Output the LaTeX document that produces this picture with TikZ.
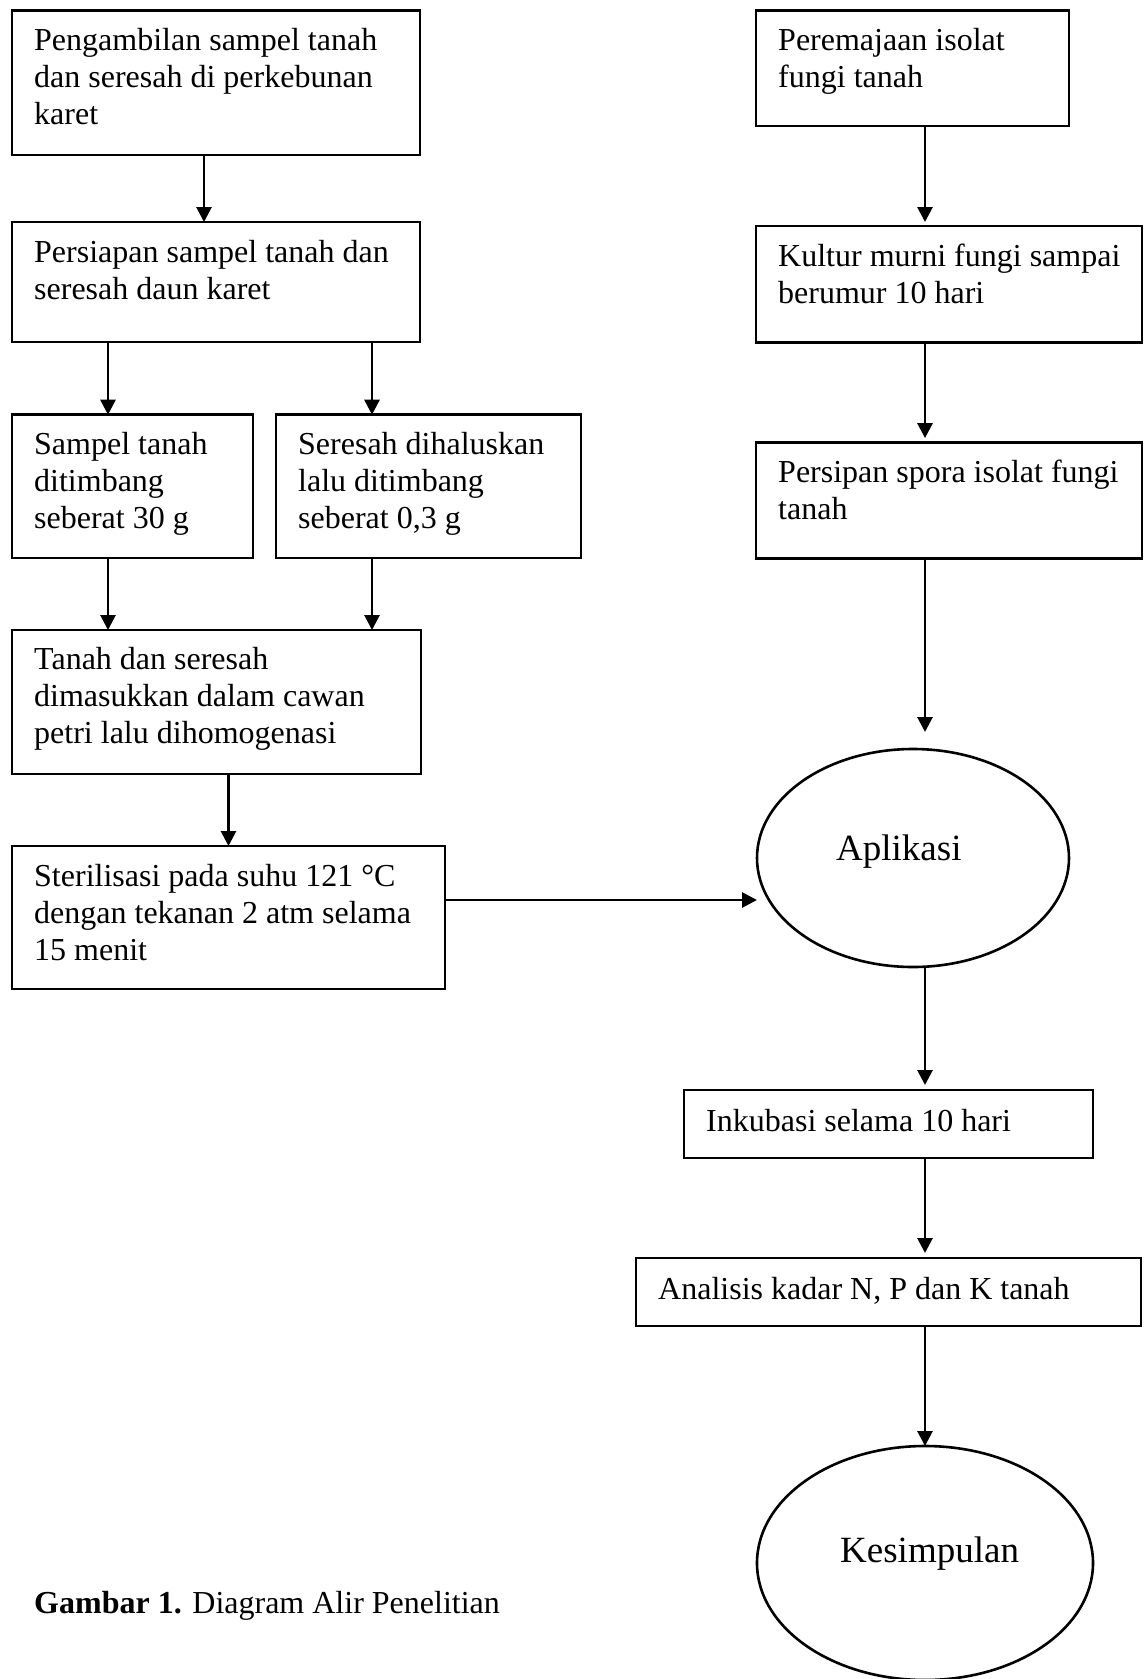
\documentclass[tikz,border=0pt]{standalone}
\usepackage{fontspec}
\setmainfont{Liberation Serif}
\usetikzlibrary{arrows.meta,shapes.geometric}
\tikzset{
  box/.style={draw, line width=2.8pt, rectangle, inner sep=0pt, outer sep=0pt, anchor=north west},
  oval/.style={draw, line width=2.6pt, ellipse, inner sep=0pt, outer sep=0pt},
  txt/.style={anchor=north west, inner sep=0pt, font=\fontsize{32}{37}\selectfont},
  big/.style={anchor=base west, inner sep=0pt, font=\fontsize{37}{42}\selectfont},
  arr/.style={line width=2.8pt, -{Triangle[length=15pt,width=15pt]}},
}
\newcommand{\boxtext}[1]{\parbox[t]{560pt}{\rule{0pt}{40pt}#1}}
\begin{document}
\begin{tikzpicture}[x=1pt,y=-1pt]
\useasboundingbox (0,0) rectangle (1145,1679);
% left column
\node[box, minimum width=408pt, minimum height=144.6pt] (b1) at (12,10.4) {};
\node[txt] (b1t) at ([xshift=22pt]b1.north west) {\boxtext{Pengambilan sampel tanah\\dan seresah di perkebunan\\karet}};
\node[box, minimum width=408pt, minimum height=120pt] (b2) at (12,222) {};
\node[txt] (b2t) at ([xshift=22pt]b2.north west) {\boxtext{Persiapan sampel tanah dan\\seresah daun karet}};
\node[box, minimum width=241pt, minimum height=143.3pt] (b3a) at (12,414.7) {};
\node[txt] (b3at) at ([xshift=22pt]b3a.north west) {\boxtext{Sampel tanah\\ditimbang\\seberat 30 g}};
\node[box, minimum width=305pt, minimum height=143.3pt] (b3b) at (276,414.7) {};
\node[txt] (b3bt) at ([xshift=22pt]b3b.north west) {\boxtext{Seresah dihaluskan\\lalu ditimbang\\seberat 0,3 g}};
\node[box, minimum width=409pt, minimum height=144pt] (b4) at (12,630) {};
\node[txt] (b4t) at ([xshift=22pt,yshift=1pt]b4.north west) {\boxtext{Tanah dan seresah\\dimasukkan dalam cawan\\petri lalu dihomogenasi}};
\node[box, minimum width=433pt, minimum height=143pt] (b5) at (12,846) {};
\node[txt] (b5t) at ([xshift=22pt]b5.north west) {\boxtext{Sterilisasi pada suhu 121 °C\\dengan tekanan 2 atm selama\\15 menit}};
% right column
\node[box, minimum width=313pt, minimum height=115.6pt] (r1) at (756,10.4) {};
\node[txt] (r1t) at ([xshift=22pt]r1.north west) {\boxtext{Peremajaan isolat\\fungi tanah}};
\node[box, minimum width=386pt, minimum height=116.2pt] (r2) at (756,226) {};
\node[txt] (r2t) at ([xshift=22pt]r2.north west) {\boxtext{Kultur murni fungi sampai\\berumur 10 hari}};
\node[box, minimum width=386pt, minimum height=116pt] (r3) at (756,442.6) {};
\node[txt] (r3t) at ([xshift=22pt]r3.north west) {\boxtext{Persipan spora isolat fungi\\tanah}};
\node[oval, minimum width=312pt, minimum height=218pt] (ap) at (913,858) {};
\node[big] (apt) at ([xshift=-77pt,yshift=-2pt]ap.center) {Aplikasi};
\node[box, minimum width=409pt, minimum height=68pt] (ink) at (684,1090) {};
\node[txt] (inkt) at ([xshift=22pt,yshift=-1pt]ink.north west) {\boxtext{Inkubasi selama 10 hari}};
\node[box, minimum width=505pt, minimum height=68pt] (ana) at (636,1258) {};
\node[txt] (anat) at ([xshift=22pt,yshift=-1pt]ana.north west) {\boxtext{Analisis kadar N, P dan K tanah}};
\node[oval, minimum width=336pt, minimum height=234pt] (kes) at (925,1563) {};
\node[big] (kest) at ([xshift=-85pt,yshift=1pt]kes.center) {Kesimpulan};
% caption
\node[anchor=base west, inner sep=0pt, font=\fontsize{32}{37}\selectfont] (cap) at (34,1613) {\textbf{Gambar 1.} Diagram Alir Penelitian};
% connectors left
\draw[arr] ([xshift=-12pt]b1.south) -- ([xshift=-12pt]b2.north);
\draw[arr] ([xshift=-108pt]b2.south) -- ([xshift=-24.5pt]b3a.north);
\draw[arr] ([xshift=156pt]b2.south) -- ([xshift=-56.5pt]b3b.north);
\draw[arr] ([xshift=-24.5pt]b3a.south) -- ([xshift=-108.5pt]b4.north);
\draw[arr] ([xshift=-56.5pt]b3b.south) -- ([xshift=155.5pt]b4.north);
\draw[arr] ([xshift=12pt]b4.south) -- (b5.north);
\draw[arr] ([yshift=17.5pt]b5.east) -- ([yshift=-42pt]ap.west);
% connectors right
\draw[arr] ([xshift=12.5pt]r1.south) -- ([xshift=-24pt,yshift=4pt]r2.north);
\draw[arr] ([xshift=-24pt]r2.south) -- ([xshift=-24pt,yshift=4.5pt]r3.north);
\draw[arr] ([xshift=-24pt]r3.south) -- ([xshift=12pt,yshift=17pt]ap.north);
\draw[arr] ([xshift=12pt]ap.south) -- ([xshift=36.5pt,yshift=5pt]ink.north);
\draw[arr] ([xshift=36.5pt]ink.south) -- ([xshift=36.5pt,yshift=5pt]ana.north);
\draw[arr] ([xshift=36.5pt]ana.south) -- (kes.north);
\end{tikzpicture}
\end{document}
